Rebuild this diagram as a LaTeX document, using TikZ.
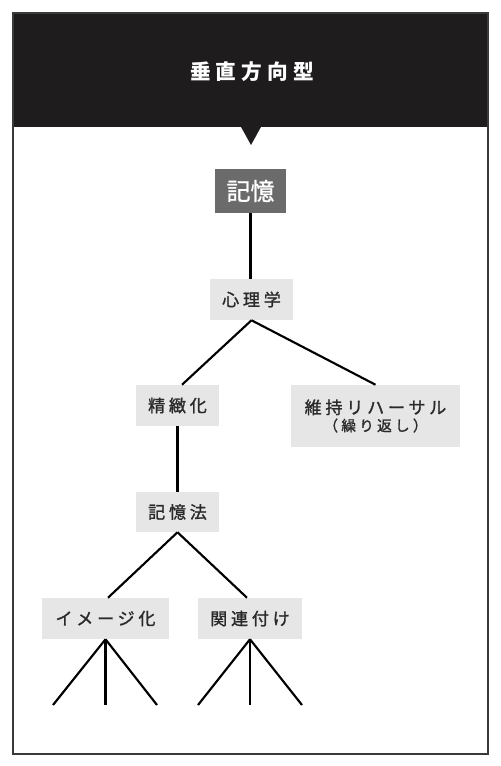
\documentclass[tikz,border=0pt]{standalone}
\usepackage{fontspec}
\newfontfamily\jp[LetterSpace=22,FakeBold=1.3]{Noto Sans CJK JP}
\newfontfamily\jptitle[LetterSpace=25]{Noto Sans CJK JP}
\newfontfamily\jpplain[FakeBold=1.0]{Noto Sans CJK JP}
\definecolor{hdr}{HTML}{1E1C1C}
\definecolor{frm}{HTML}{3A3A3A}
\definecolor{dbox}{HTML}{6B6B6B}
\definecolor{lbox}{HTML}{E6E6E6}
\definecolor{txt}{HTML}{2A2A2A}
\begin{document}
\begin{tikzpicture}[x=0.75pt,y=-0.75pt,
  lbl/.style={rectangle,fill=lbox,inner sep=0pt,text=txt,font=\jp\fontsize{12.8pt}{15pt}\selectfont,align=center},
  conn/.style={line width=1.6pt,black},
  leg/.style={line width=1.6pt,black}]
\useasboundingbox (0,0) rectangle (500,766);
\fill[white] (0,0) rectangle (500,766);
% header and frame
\fill[hdr] (13,13) rectangle (488,127);
\draw[frm,line width=1.5pt] (13,13) rectangle (488,754);
\fill[hdr] (240.5,126) -- (261.5,126) -- (251,145) -- cycle;
\node[text=white,font=\jptitle\bfseries\fontsize{15.5pt}{18pt}\selectfont] (title) at (252,72) {垂直方向型};
% nodes
\node[rectangle,fill=dbox,inner sep=0pt,minimum width=71*0.75pt,minimum height=44*0.75pt,text=white,font=\jpplain\fontsize{18pt}{20pt}\selectfont] (kioku) at (250.5,191) {記憶};
\node[lbl,minimum width=83*0.75pt,minimum height=41*0.75pt] (shinri) at (251.5,299.5) {心理学};
\node[lbl,minimum width=83*0.75pt,minimum height=41*0.75pt] (seichi) at (177.5,405.5) {精緻化};
\node[lbl,minimum width=169*0.75pt,minimum height=62*0.75pt] (iji) at (375.5,416) {維持リハーサル\\[-2pt]{\fontsize{11pt}{13pt}\selectfont（繰り返し）}};
\node[lbl,minimum width=83*0.75pt,minimum height=40*0.75pt] (kiokuho) at (177.5,512) {記憶法};
\node[lbl,minimum width=127*0.75pt,minimum height=41*0.75pt] (image) at (105.5,618.5) {イメージ化};
\node[lbl,minimum width=104*0.75pt,minimum height=41*0.75pt] (kanren) at (250,618.5) {関連付け};
% leaf ends
\coordinate (i1) at (53,705);
\coordinate (i2) at (105.5,705);
\coordinate (i3) at (157,705);
\coordinate (k1) at (198,705);
\coordinate (k2) at (250,705);
\coordinate (k3) at (302,705);
% connectors
\draw[conn] (kioku.south) -- (shinri.north -| kioku.south);
\draw[conn] (shinri.south) -- ([xshift=4.5*0.75pt]seichi.north);
\draw[conn] (shinri.south) -- (iji.north);
\draw[conn] (seichi.south) -- (kiokuho.north);
\draw[conn] (kiokuho.south) -- ([xshift=2.5*0.75pt]image.north);
\draw[conn] (kiokuho.south) -- ([xshift=-3*0.75pt]kanren.north);
\draw[leg] (image.south) -- (i1);
\draw[leg] (image.south) -- (i2);
\draw[leg] (image.south) -- (i3);
\draw[leg] (kanren.south) -- (k1);
\draw[leg] (kanren.south) -- (k2);
\draw[leg] (kanren.south) -- (k3);
\end{tikzpicture}
\end{document}
